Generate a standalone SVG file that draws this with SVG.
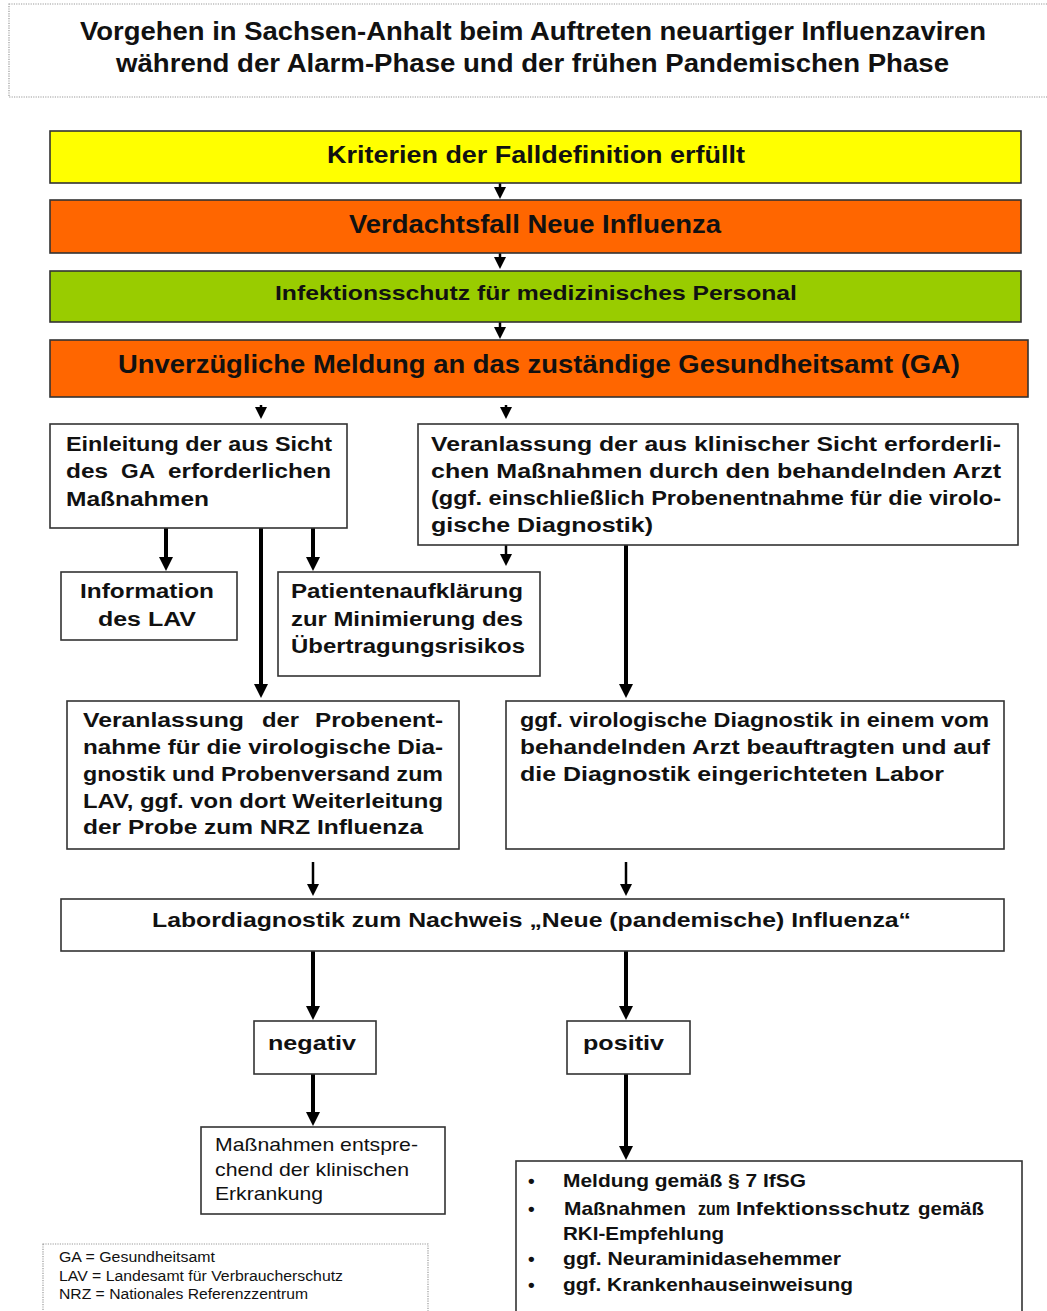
<svg xmlns="http://www.w3.org/2000/svg" width="1047" height="1311" viewBox="0 0 1047 1311">
<defs>
<style>
text{font-family:"Liberation Sans",Arial,sans-serif;fill:#111}
.b{font-weight:bold}
.box{fill:#fff;stroke:#333;stroke-width:1.6}
.dot{fill:#fff;stroke:#999;stroke-width:1.2;stroke-dasharray:1.2 1.2}
.ln{stroke:#000;fill:none}
.th{stroke-width:4}
.tn{stroke-width:2.5}
.s20{font-size:20px}
</style>
<marker id="ah" viewBox="0 0 14 14" markerWidth="14" markerHeight="14" refX="4" refY="7" orient="auto" markerUnits="userSpaceOnUse"><path d="M0,0 L14,7 L0,14 z" fill="#000"/></marker>
<marker id="as" viewBox="0 0 12 12" markerWidth="12" markerHeight="12" refX="2" refY="6" orient="auto" markerUnits="userSpaceOnUse"><path d="M0,0 L12,6 L0,12 z" fill="#000"/></marker>
</defs>
<rect width="1047" height="1311" fill="#fff"/>

<g id="title">
<rect class="dot" x="9" y="4" width="1045" height="93"/>
<text class="b" x="80" y="40" font-size="26" textLength="906" lengthAdjust="spacingAndGlyphs">Vorgehen in Sachsen-Anhalt beim Auftreten neuartiger Influenzaviren</text>
<text class="b" x="116" y="72" font-size="26" textLength="833" lengthAdjust="spacingAndGlyphs">während der Alarm-Phase und der frühen Pandemischen Phase</text>
</g>

<g id="connectors">
<line class="ln tn" x1="500" y1="183" x2="500" y2="189" marker-end="url(#as)"/>
<line class="ln tn" x1="500" y1="253" x2="500" y2="259" marker-end="url(#as)"/>
<line class="ln tn" x1="500" y1="322" x2="500" y2="329" marker-end="url(#as)"/>
<line class="ln tn" x1="261" y1="405" x2="261" y2="409" marker-end="url(#as)"/>
<line class="ln tn" x1="506" y1="405" x2="506" y2="409" marker-end="url(#as)"/>
<line class="ln th" x1="166" y1="528" x2="166" y2="561" marker-end="url(#ah)"/>
<line class="ln th" x1="313" y1="528" x2="313" y2="561" marker-end="url(#ah)"/>
<line class="ln th" x1="261" y1="528" x2="261" y2="688" marker-end="url(#ah)"/>
<line class="ln tn" x1="506" y1="545" x2="506" y2="556" marker-end="url(#as)"/>
<line class="ln th" x1="626" y1="545" x2="626" y2="688" marker-end="url(#ah)"/>
<line class="ln tn" x1="313" y1="862" x2="313" y2="886" marker-end="url(#as)"/>
<line class="ln tn" x1="626" y1="862" x2="626" y2="886" marker-end="url(#as)"/>
<line class="ln th" x1="313" y1="951" x2="313" y2="1010" marker-end="url(#ah)"/>
<line class="ln th" x1="626" y1="951" x2="626" y2="1010" marker-end="url(#ah)"/>
<line class="ln th" x1="313" y1="1074" x2="313" y2="1116" marker-end="url(#ah)"/>
<line class="ln th" x1="626" y1="1074" x2="626" y2="1150" marker-end="url(#ah)"/>
</g>

<g id="kriterien">
<rect x="50" y="131" width="971" height="52" fill="#FFFF00" stroke="#333" stroke-width="1.6"/>
<text class="b" x="327" y="163" font-size="24" textLength="418" lengthAdjust="spacingAndGlyphs">Kriterien der Falldefinition erfüllt</text>
</g>
<g id="verdachtsfall">
<rect x="50" y="200" width="971" height="53" fill="#FF6600" stroke="#333" stroke-width="1.6"/>
<text class="b" x="349" y="233" font-size="25" textLength="372" lengthAdjust="spacingAndGlyphs">Verdachtsfall Neue Influenza</text>
</g>
<g id="infektionsschutz">
<rect x="50" y="271" width="971" height="51" fill="#99CC00" stroke="#333" stroke-width="1.6"/>
<text class="b" x="275" y="300" font-size="21" textLength="522" lengthAdjust="spacingAndGlyphs">Infektionsschutz für medizinisches Personal</text>
</g>
<g id="meldung">
<rect x="50" y="340" width="978" height="57" fill="#FF6600" stroke="#333" stroke-width="1.6"/>
<text class="b" x="118" y="373" font-size="25" textLength="842" lengthAdjust="spacingAndGlyphs">Unverzügliche Meldung an das zuständige Gesundheitsamt (GA)</text>
</g>

<g id="einleitung">
<rect class="box" x="50" y="424" width="297" height="104"/>
<text class="b s20" x="66" y="451" textLength="266" lengthAdjust="spacingAndGlyphs">Einleitung der aus Sicht</text>
<text class="b s20" y="478"><tspan x="66" textLength="42" lengthAdjust="spacingAndGlyphs">des</tspan><tspan x="121" textLength="34" lengthAdjust="spacingAndGlyphs">GA</tspan><tspan x="168" textLength="163" lengthAdjust="spacingAndGlyphs">erforderlichen</tspan></text>
<text class="b s20" x="66" y="506" textLength="143" lengthAdjust="spacingAndGlyphs">Maßnahmen</text>
</g>

<g id="veranlassung-klinisch">
<rect class="box" x="418" y="424" width="600" height="121"/>
<text class="b s20" x="431" y="451" textLength="570" lengthAdjust="spacingAndGlyphs">Veranlassung der aus klinischer Sicht erforderli-</text>
<text class="b s20" x="431" y="478" textLength="570" lengthAdjust="spacingAndGlyphs">chen Maßnahmen durch den behandelnden Arzt</text>
<text class="b s20" x="431" y="505" textLength="570" lengthAdjust="spacingAndGlyphs">(ggf. einschließlich Probenentnahme für die virolo-</text>
<text class="b s20" x="431" y="532" textLength="222" lengthAdjust="spacingAndGlyphs">gische Diagnostik)</text>
</g>

<g id="information-lav">
<rect class="box" x="61" y="572" width="176" height="68"/>
<text class="b s20" x="147" y="598" text-anchor="middle" textLength="134" lengthAdjust="spacingAndGlyphs">Information</text>
<text class="b s20" x="147" y="626" text-anchor="middle" textLength="98" lengthAdjust="spacingAndGlyphs">des LAV</text>
</g>

<g id="patientenaufklaerung">
<rect class="box" x="278" y="572" width="262" height="104"/>
<text class="b s20" x="291" y="598" textLength="232" lengthAdjust="spacingAndGlyphs">Patientenaufklärung</text>
<text class="b s20" x="291" y="626" textLength="232" lengthAdjust="spacingAndGlyphs">zur Minimierung des</text>
<text class="b s20" x="291" y="653" textLength="234" lengthAdjust="spacingAndGlyphs">Übertragungsrisikos</text>
</g>

<g id="veranlassung-probe">
<rect class="box" x="67" y="701" width="392" height="148"/>
<text class="b s20" y="727"><tspan x="83" textLength="161" lengthAdjust="spacingAndGlyphs">Veranlassung</tspan><tspan x="262" textLength="37" lengthAdjust="spacingAndGlyphs">der</tspan><tspan x="315" textLength="128" lengthAdjust="spacingAndGlyphs">Probenent-</tspan></text>
<text class="b s20" x="83" y="754" textLength="360" lengthAdjust="spacingAndGlyphs">nahme für die virologische Dia-</text>
<text class="b s20" x="83" y="781" textLength="360" lengthAdjust="spacingAndGlyphs">gnostik und Probenversand zum</text>
<text class="b s20" x="83" y="808" textLength="360" lengthAdjust="spacingAndGlyphs">LAV, ggf. von dort Weiterleitung</text>
<text class="b s20" x="83" y="834" textLength="340" lengthAdjust="spacingAndGlyphs">der Probe zum NRZ Influenza</text>
</g>

<g id="virologische-diagnostik">
<rect class="box" x="506" y="701" width="498" height="148"/>
<text class="b s20" x="520" y="727" textLength="469" lengthAdjust="spacingAndGlyphs">ggf. virologische Diagnostik in einem vom</text>
<text class="b s20" x="520" y="754" textLength="470" lengthAdjust="spacingAndGlyphs">behandelnden Arzt beauftragten und auf</text>
<text class="b s20" x="520" y="781" textLength="424" lengthAdjust="spacingAndGlyphs">die Diagnostik eingerichteten Labor</text>
</g>

<g id="labordiagnostik">
<rect class="box" x="61" y="899" width="943" height="52"/>
<text class="b s20" x="152" y="927" textLength="759" lengthAdjust="spacingAndGlyphs">Labordiagnostik zum Nachweis „Neue (pandemische) Influenza“</text>
</g>

<g id="negativ">
<rect class="box" x="254" y="1021" width="122" height="53"/>
<text class="b" x="268" y="1050" font-size="21" textLength="88" lengthAdjust="spacingAndGlyphs">negativ</text>
</g>
<g id="positiv">
<rect class="box" x="567" y="1021" width="123" height="53"/>
<text class="b" x="583" y="1050" font-size="21" textLength="81" lengthAdjust="spacingAndGlyphs">positiv</text>
</g>

<g id="massnahmen-klinisch">
<rect class="box" x="201" y="1127" width="244" height="87"/>
<text x="215" y="1151" font-size="19" fill="#333" textLength="203" lengthAdjust="spacingAndGlyphs">Maßnahmen entspre-</text>
<text x="215" y="1176" font-size="19" fill="#333" textLength="194" lengthAdjust="spacingAndGlyphs">chend der klinischen</text>
<text x="215" y="1200" font-size="19" fill="#333" textLength="108" lengthAdjust="spacingAndGlyphs">Erkrankung</text>
</g>

<g id="massnahmen-positiv">
<rect class="box" x="516" y="1161" width="506" height="160"/>
<g class="b" font-size="19">
<text x="528" y="1187">•</text>
<text x="563" y="1187" textLength="243" lengthAdjust="spacingAndGlyphs">Meldung  gemäß § 7 IfSG</text>
<text x="528" y="1215">•</text>
<text y="1215"><tspan x="564" textLength="122" lengthAdjust="spacingAndGlyphs">Maßnahmen</tspan><tspan x="698" textLength="32" lengthAdjust="spacingAndGlyphs">zum</tspan><tspan x="736" textLength="174" lengthAdjust="spacingAndGlyphs">Infektionsschutz</tspan><tspan x="918" textLength="66" lengthAdjust="spacingAndGlyphs">gemäß</tspan></text>
<text x="563" y="1240" textLength="161" lengthAdjust="spacingAndGlyphs">RKI-Empfehlung</text>
<text x="528" y="1265">•</text>
<text x="563" y="1265" textLength="278" lengthAdjust="spacingAndGlyphs">ggf. Neuraminidasehemmer</text>
<text x="528" y="1291">•</text>
<text x="563" y="1291" textLength="290" lengthAdjust="spacingAndGlyphs">ggf. Krankenhauseinweisung</text>
</g>
</g>

<g id="legende">
<rect class="dot" x="43" y="1244" width="385" height="80"/>
<text x="59" y="1262" font-size="14" fill="#222" textLength="156" lengthAdjust="spacingAndGlyphs">GA = Gesundheitsamt</text>
<text x="59" y="1281" font-size="14" fill="#222" textLength="284" lengthAdjust="spacingAndGlyphs">LAV = Landesamt für Verbraucherschutz</text>
<text x="59" y="1299" font-size="14" fill="#222" textLength="249" lengthAdjust="spacingAndGlyphs">NRZ = Nationales Referenzzentrum</text>
</g>
</svg>
